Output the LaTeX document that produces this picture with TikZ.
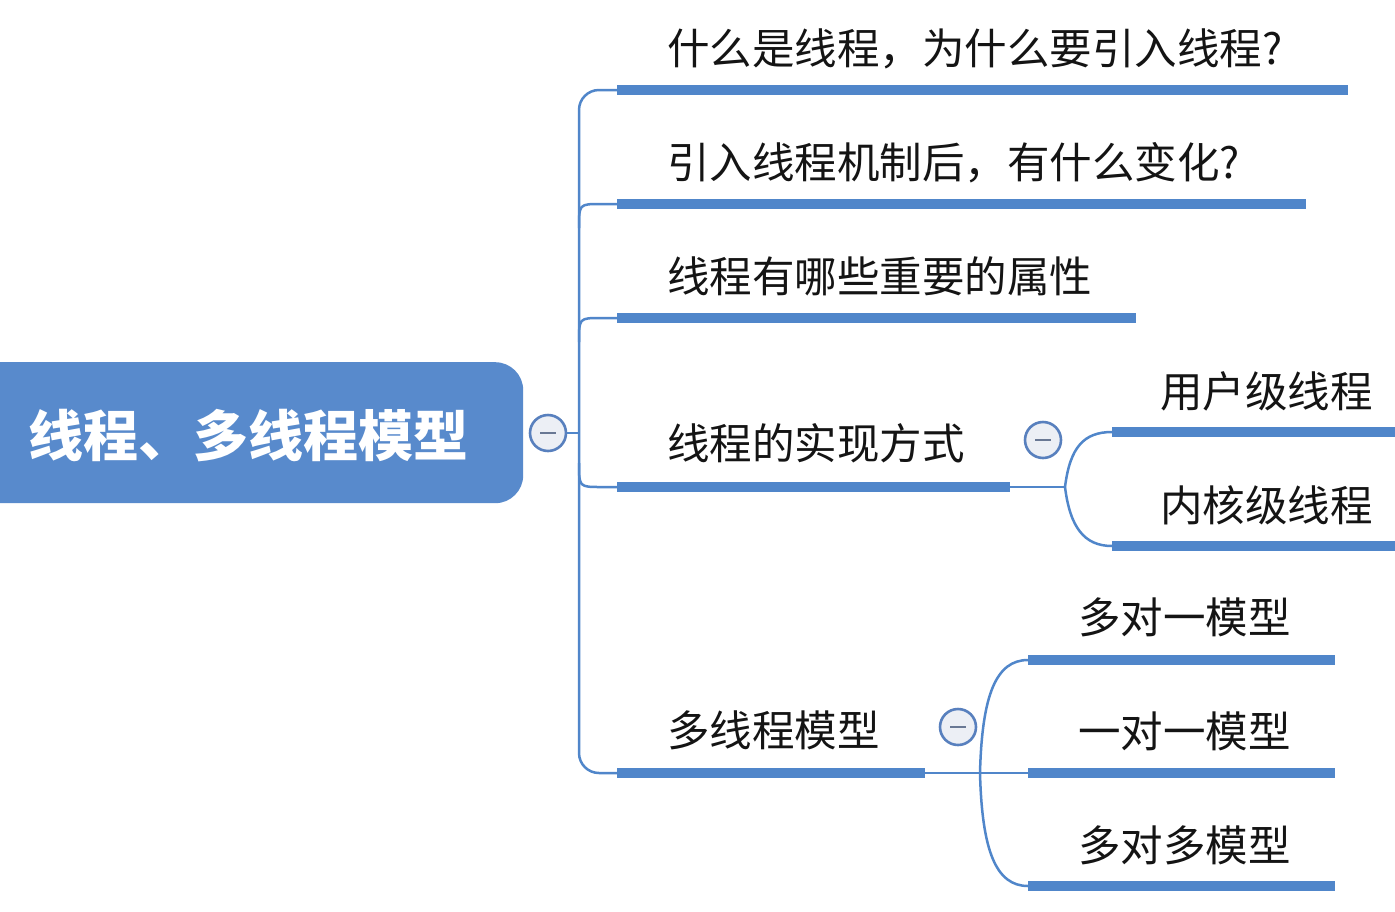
\documentclass[tikz,border=0pt]{standalone}
\usepackage{fontspec}
\usetikzlibrary{calc}
\newfontfamily\cjk{Noto Sans CJK SC}
\definecolor{bar}{RGB}{80,134,202}
\definecolor{rootfill}{RGB}{88,138,204}
\definecolor{ink}{RGB}{20,20,20}
\definecolor{knobfill}{RGB}{236,239,245}
\definecolor{knobline}{RGB}{88,128,190}
\definecolor{minuscol}{RGB}{105,120,148}
\begin{document}
\begin{tikzpicture}[x=1pt,y=-1pt,
  lbl/.style={anchor=base west, inner sep=0pt, text=ink, font=\cjk\fontsize{42.5}{50}\selectfont},
  barline/.style={draw=bar, line width=10pt},
  conn/.style={draw=bar, line width=2.5pt},
  knob/.style={circle, draw=knobline, line width=2.6pt, fill=knobfill, minimum size=36pt, inner sep=0pt},
  minusbar/.style={draw=minuscol, line width=2.4pt},
]
\useasboundingbox (0,0) rectangle (1395,911);
\clip (0,0) rectangle (1395,911);
\fill[white] (0,0) rectangle (1395,911);

% root
\node (root) [fill=rootfill, rounded corners=28pt, minimum width=563pt, minimum height=141pt, anchor=north west, inner sep=0pt] at (-40,362) {};
\node (roottext) [anchor=base west, inner sep=0pt, text=white, font=\cjk\bfseries\fontsize{55}{60}\selectfont] at (28,456) {线程、多线程模型};

% coordinates
\coordinate (tt) at (579,90);
\coordinate (tb) at (579,773);
\coordinate (b1s) at (617,90);   \coordinate (b1e) at (1348,90);
\coordinate (b2s) at (617,204);  \coordinate (b2e) at (1306,204);
\coordinate (b3s) at (617,318);  \coordinate (b3e) at (1136,318);
\coordinate (b4s) at (617,487);  \coordinate (b4e) at (1010,487);
\coordinate (b5s) at (617,773);  \coordinate (b5e) at (925,773);
\coordinate (j4) at (1065,487);
\coordinate (s1s) at (1112,432); \coordinate (s1e) at (1400,432);
\coordinate (s2s) at (1112,546); \coordinate (s2e) at (1400,546);
\coordinate (j5) at (980,773);
\coordinate (m1s) at (1028,660); \coordinate (m1e) at (1335,660);
\coordinate (m2s) at (1028,773); \coordinate (m2e) at (1335,773);
\coordinate (m3s) at (1028,886); \coordinate (m3e) at (1335,886);

% knobs
\node (k0) [knob] at (548,433) {};
\node (k4) [knob] at (1043,440) {};
\node (k5) [knob] at (958,727) {};

% connectors
\draw[conn] (k0.east) -- (k0 -| tt);
\draw[conn, rounded corners=20pt] (b1s) -- (tt) -- (tb) -- (b5s);
\draw[conn] (b2s) -- ($(b2s)+(-16,0)$) .. controls ($(b2s)+(-38,0)$) .. ($(b2s)+(-38,24)$);
\draw[conn] (b3s) -- ($(b3s)+(-16,0)$) .. controls ($(b3s)+(-38,0)$) .. ($(b3s)+(-38,24)$);
\draw[conn] (b4s) -- ($(b4s)+(-16,0)$) .. controls ($(b4s)+(-38,0)$) .. ($(b4s)+(-38,-24)$);
\draw[conn] (b4e) -- (j4);
\draw[conn] (j4) .. controls (1070,447) and (1084,432) .. (s1s);
\draw[conn] (j4) .. controls (1070,527) and (1084,546) .. (s2s);
\draw[conn] (b5e) -- (m2s);
\draw[conn] (j5) .. controls (982,695) and (996,660) .. (m1s);
\draw[conn] (j5) .. controls (982,851) and (996,886) .. (m3s);

% bars
\draw[barline] (b1s) -- (b1e);
\draw[barline] (b2s) -- (b2e);
\draw[barline] (b3s) -- (b3e);
\draw[barline] (b4s) -- (b4e);
\draw[barline] (b5s) -- (b5e);
\draw[barline] (s1s) -- (s1e);
\draw[barline] (s2s) -- (s2e);
\draw[barline] (m1s) -- (m1e);
\draw[barline] (m2s) -- (m2e);
\draw[barline] (m3s) -- (m3e);

% minus signs
\foreach \k in {k0,k4,k5} {
  \draw[minusbar] ($(\k.center)+(-8,0)$) -- ($(\k.center)+(8,0)$);
}

% labels
\node (t1) [lbl] at (667,64) {什么是线程，为什么要引入线程?};
\node (t2) [lbl] at (667,178) {引入线程机制后，有什么变化?};
\node (t3) [lbl] at (667,292) {线程有哪些重要的属性};
\node (t4) [lbl] at (667,459) {线程的实现方式};
\node (t41) [lbl] at (1160,407) {用户级线程};
\node (t42) [lbl] at (1160,521) {内核级线程};
\node (t5) [lbl] at (667,746) {多线程模型};
\node (t51) [lbl] at (1078,633) {多对一模型};
\node (t52) [lbl] at (1078,747) {一对一模型};
\node (t53) [lbl] at (1078,861) {多对多模型};
\end{tikzpicture}
\end{document}
